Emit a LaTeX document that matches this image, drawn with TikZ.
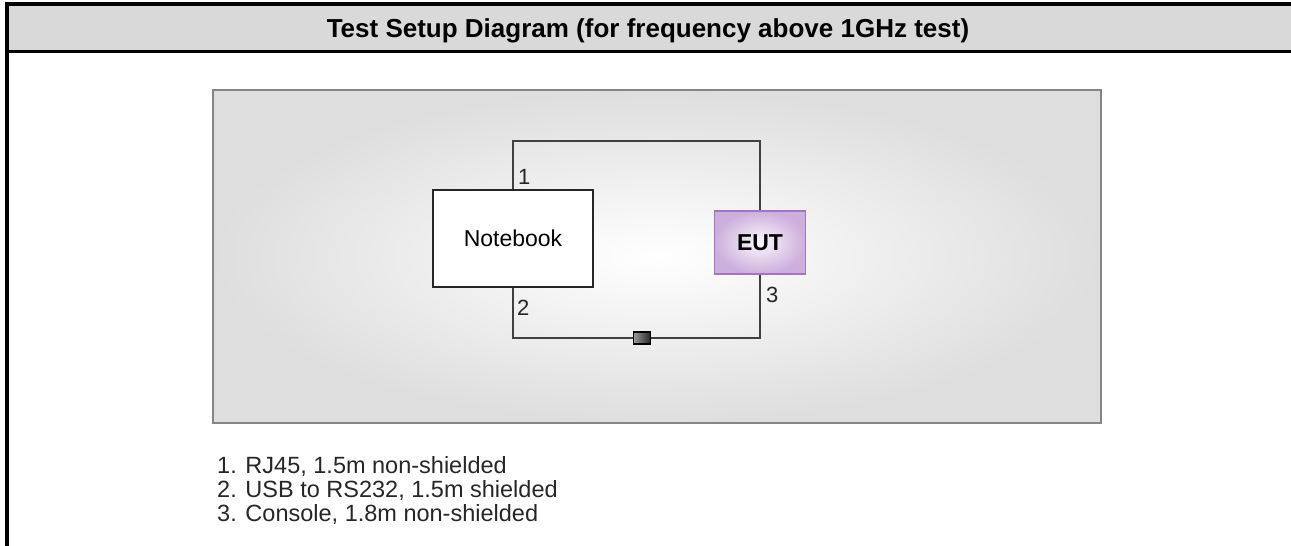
\documentclass[tikz,border=0pt]{standalone}
\usepackage{fontspec}
\setmainfont{Liberation Sans}
\usepackage{tikz}
\usetikzlibrary{positioning,calc}
\definecolor{headgray}{HTML}{D9D9D9}
\definecolor{benchgray}{HTML}{DEDEDE}
\definecolor{benchline}{HTML}{858585}
\definecolor{cablegray}{HTML}{404040}
\definecolor{eutfill}{HTML}{CDAFDC}
\definecolor{eutline}{HTML}{A474BE}
\tikzset{
  frame/.style={line width=4pt,black},
  bench/.style={rectangle,draw=benchline,line width=2pt,inner sep=0pt,
                minimum width=888pt,minimum height=333pt,
                inner color=white,outer color=benchgray},
  device/.style={rectangle,draw=black!85,line width=1.5pt,inner sep=0pt,
                 fill=white,font=\fontsize{23}{26}\selectfont},
  cable/.style={draw=cablegray,line width=1.8pt},
  portnum/.style={anchor=base west,inner sep=0pt,
                  font=\fontsize{22}{24}\selectfont,text=black!85},
}
\begin{document}
\begin{tikzpicture}[x=1pt,y=-1pt,
  eut/.style={rectangle,draw=eutline,line width=1.5pt,inner sep=0pt,
              minimum width=91pt,minimum height=63pt,
              inner color=white!90!eutfill,outer color=eutfill,
              font=\bfseries\fontsize{23}{26}\selectfont},
  plug/.style={rectangle,draw=black,line width=1.2pt,inner sep=0pt,
               minimum width=17pt,minimum height=12pt,
               left color=gray!80,right color=black!85}
]
  \useasboundingbox (0,0) rectangle (1291,546);

  % header band
  \fill[headgray] (7,4) rectangle (1291,51);
  \draw[frame] (7,546) -- (7,4) -- (1291,4);
  \draw[line width=3pt] (5,51.5) -- (1291,51.5);
  \node[font=\bfseries\fontsize{26}{30}\selectfont,anchor=base] (title)
    at (648,37) {Test Setup Diagram (for frequency above 1GHz test)};

  % test bench
  \node[bench] (bench) at (657,256.5) {};

  \node[device,minimum width=160pt,minimum height=97pt] (nb)
    at (513,238.5) {Notebook};
  \node[eut] (eut) at (760,242.5) {EUT};

  \coordinate (top) at (636,141);
  \node[plug] (plug) at (642,338) {};

  \draw[cable] (nb.north) |- (top) -| (eut.north);
  \draw[cable] (nb.south) |- (plug.west);
  \draw[cable] (plug.east) -| (eut.south);

  \node[portnum] (p1) at (518,184) {1};
  \node[portnum] (p2) at (517,315) {2};
  \node[portnum] (p3) at (766,302) {3};

  % cable list
  \node[anchor=north west,inner sep=0pt,align=left,
        font=\fontsize{23.5}{24}\selectfont,text=black!85] (legend)
    at (217,456) {1. RJ45, 1.5m non-shielded\\
                  2. USB to RS232, 1.5m shielded\\
                  3. Console, 1.8m non-shielded};
\end{tikzpicture}
\end{document}
